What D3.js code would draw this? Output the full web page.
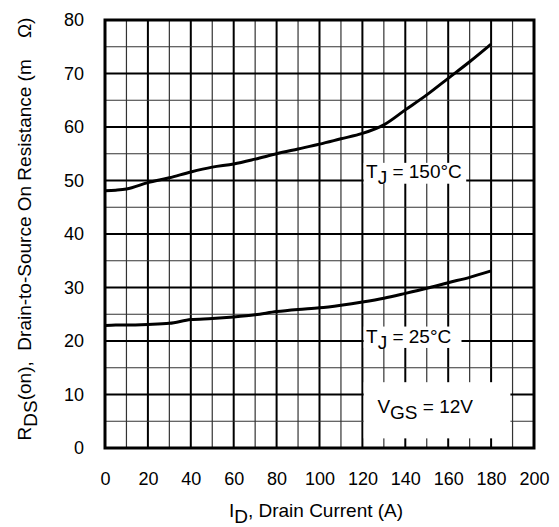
<!DOCTYPE html>
<html>
<head>
<meta charset="utf-8">
<script src="https://cdn.jsdelivr.net/npm/d3@7"></script>
<style>
  html, body { margin: 0; padding: 0; background: #fff; }
  svg { display: block; font-family: "Liberation Sans", Arial, Helvetica, sans-serif; }
  text { white-space: pre; }
</style>
</head>
<body>
<svg id="chart" width="559" height="527"></svg>
<script>
// ---- data ----
const currentA = [0, 5, 10, 20, 30, 40, 50, 60, 70, 80, 90, 100, 110, 120, 130, 140, 150, 160, 170, 180];
const rds150 = [48.1, 48.2, 48.4, 49.6, 50.5, 51.6, 52.5, 53.1, 54.0, 55.0, 55.9, 56.8, 57.8, 58.8, 60.4, 63.2, 66.0, 69.1, 72.2, 75.5];
const rds25  = [22.9, 23.0, 23.0, 23.1, 23.3, 24.0, 24.2, 24.5, 24.9, 25.5, 25.9, 26.2, 26.7, 27.3, 28.0, 28.9, 29.85, 30.9, 31.9, 33.1];
const xTicks = [0, 20, 40, 60, 80, 100, 120, 140, 160, 180, 200];
const yTicks = [0, 10, 20, 30, 40, 50, 60, 70, 80];
const xGrid = d3.range(10, 200, 10);
const yGrid = d3.range(5, 80, 5);

const svg = d3.select("#chart");
const x = d3.scaleLinear().domain([0, 200]).range([105, 534]);
const y = d3.scaleLinear().domain([0, 80]).range([448, 20]);

// grid
const g = svg.append("g");
g.selectAll("line.vx").data(xGrid).join("line")
  .attr("x1", d => x(d)).attr("x2", d => x(d))
  .attr("y1", y(0)).attr("y2", y(80))
  .attr("stroke", d => d % 20 === 0 ? "#000" : "#333")
  .attr("stroke-width", d => d % 20 === 0 ? 2 : 1.2);
g.selectAll("line.hy").data(yGrid).join("line")
  .attr("y1", d => y(d)).attr("y2", d => y(d))
  .attr("x1", x(0)).attr("x2", x(200))
  .attr("stroke", d => d % 10 === 0 ? "#000" : "#333")
  .attr("stroke-width", d => d % 10 === 0 ? 2 : 1.2);

// curves
const line = d3.line().x(d => x(d[0])).y(d => y(d[1])).curve(d3.curveMonotoneX);
[rds150, rds25].forEach(vals => {
  svg.append("path")
    .datum(currentA.map((c, i) => [c, vals[i]]))
    .attr("d", line)
    .attr("fill", "none")
    .attr("stroke", "#000")
    .attr("stroke-width", 3);
});

// annotation boxes
function label(x0, x1, y0, y1, parts, tx, ty) {
  svg.append("rect")
    .attr("x", x(x0)).attr("y", y(y1))
    .attr("width", x(x1) - x(x0)).attr("height", y(y0) - y(y1))
    .attr("fill", "#fff");
  const t = svg.append("text").attr("x", x(tx)).attr("y", y(ty))
    .attr("font-size", 19).attr("fill", "#000");
  parts.forEach(p => {
    t.append("tspan").attr("dy", p[1]).text(p[0]);
  });
}
label(120.6, 168.4, 49.4, 53.3, [["T", 0], ["J", 6], [" = 150°C", -6]], 121.7, 50.5);
label(120.6, 166.2, 18.7, 22.7, [["T", 0], ["J", 6], [" = 25°C", -6]], 121.7, 19.7);
label(120.6, 189.0, 1.8, 12.3, [["V", 0], ["GS", 6], [" = 12V", -6]], 127.0, 6.5);

// border
svg.append("rect")
  .attr("x", x(0)).attr("y", y(80))
  .attr("width", x(200) - x(0)).attr("height", y(0) - y(80))
  .attr("fill", "none").attr("stroke", "#000").attr("stroke-width", 3);

// axes
const xAxis = svg.append("g").attr("transform", `translate(0,${y(0)})`)
  .call(d3.axisBottom(x).tickValues(xTicks).tickSize(0).tickPadding(24));
const yAxis = svg.append("g").attr("transform", `translate(${x(0)},0)`)
  .call(d3.axisLeft(y).tickValues(yTicks).tickSize(0).tickPadding(21));
[xAxis, yAxis].forEach(a => {
  a.select(".domain").remove();
  a.selectAll("text").attr("font-size", 18).attr("fill", "#000")
    .attr("font-family", "'Liberation Sans', Arial, sans-serif");
});

// axis titles
const xt = svg.append("text").attr("x", 316).attr("y", 517)
  .attr("text-anchor", "middle").attr("font-size", 19);
xt.append("tspan").text("I");
xt.append("tspan").attr("dy", 6).text("D");
xt.append("tspan").attr("dy", -6).text(", Drain Current (A)");

const yt = svg.append("text")
  .attr("transform", "translate(31,229) rotate(-90)")
  .attr("text-anchor", "middle").attr("font-size", 19);
yt.append("tspan").text("R");
yt.append("tspan").attr("dy", 6).text("DS");
yt.append("tspan").attr("dy", -6).text("(on),  Drain-to-Source On Resistance (m    Ω)");
</script>
</body>
</html>
